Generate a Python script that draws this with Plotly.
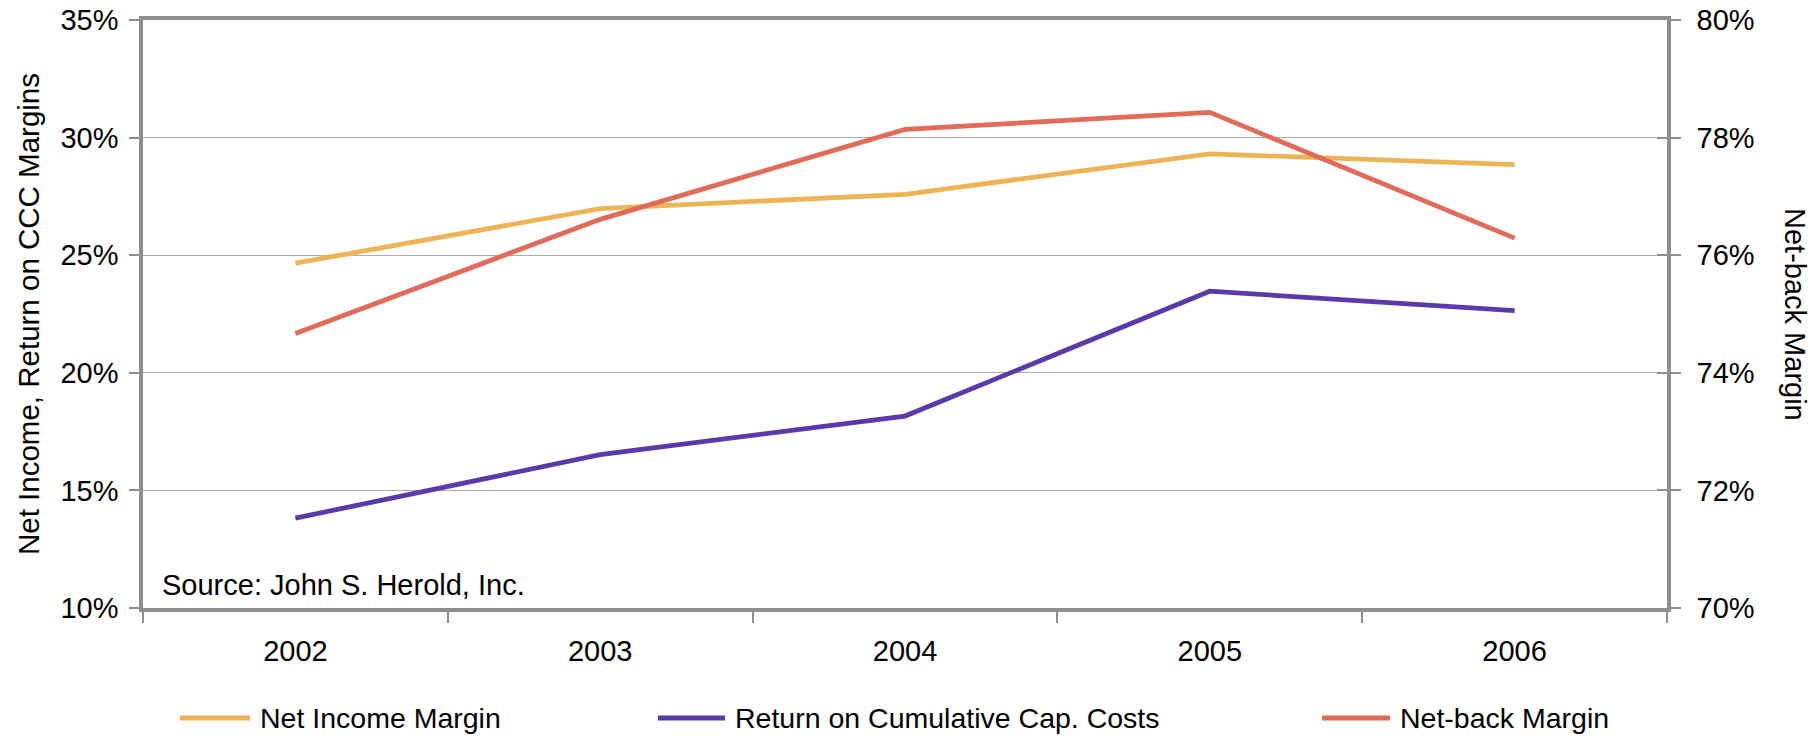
import plotly.graph_objects as go

# Yearly margins (percent)
years = ["2002", "2003", "2004", "2005", "2006"]
net_income_margin = [24.66, 26.98, 27.59, 29.31, 28.85]
return_on_ccc = [13.82, 16.52, 18.16, 23.47, 22.64]
netback_margin = [74.67, 76.61, 78.14, 78.43, 76.29]

series_names = ["Net Income Margin", "Return on Cumulative Cap. Costs", "Net-back Margin"]
series_colors = ["#EDB455", "#5A3AAB", "#E16B58"]

left_ticks = [10, 15, 20, 25, 30, 35]
right_ticks = [70, 72, 74, 76, 78, 80]
left_labels = [f"{v}%" for v in left_ticks]
right_labels = [f"{v}%" for v in right_ticks]

FONT = "Liberation Sans, Arial, sans-serif"
AXIS_GRAY = "#8E8E8E"
W, H = 1819, 738
ML, MR, MT, MB = 143, 152, 20, 130
PW, PH = W - ML - MR, H - MT - MB


def px_x(px):
    return (px - ML) / PW


def px_y(py):
    return (H - MB - py) / PH


fig = go.Figure()
fig.add_trace(go.Scatter(x=years, y=net_income_margin, mode="lines",
                         line=dict(color=series_colors[0], width=4.8),
                         name=series_names[0], yaxis="y"))
fig.add_trace(go.Scatter(x=years, y=return_on_ccc, mode="lines",
                         line=dict(color=series_colors[1], width=4.8),
                         name=series_names[1], yaxis="y"))
fig.add_trace(go.Scatter(x=years, y=netback_margin, mode="lines",
                         line=dict(color=series_colors[2], width=4.8),
                         name=series_names[2], yaxis="y2"))

tickfont = dict(family=FONT, size=29, color="#000000")

fig.update_layout(
    width=W, height=H,
    margin=dict(l=ML, r=MR, t=MT, b=MB, autoexpand=False),
    paper_bgcolor="white", plot_bgcolor="white",
    showlegend=False,
    font=dict(family=FONT, size=29, color="#000000"),
    xaxis=dict(
        type="category", range=[-0.5, 4.5],
        showgrid=False, zeroline=False,
        showline=True, linecolor=AXIS_GRAY, linewidth=3.5, mirror=True,
        ticks="outside", tickson="boundaries", ticklen=11, tickwidth=2,
        tickcolor=AXIS_GRAY, tickfont=tickfont, ticklabelstandoff=14,
    ),
    yaxis=dict(
        range=[10, 35], tickmode="array", tickvals=left_ticks, ticktext=left_labels,
        showgrid=True, gridcolor="#ADADAD", gridwidth=1.2, zeroline=False,
        showline=True, linecolor=AXIS_GRAY, linewidth=3.5,
        ticks="outside", ticklen=10, tickwidth=2, tickcolor=AXIS_GRAY,
        tickfont=tickfont, ticklabelstandoff=5,
    ),
    yaxis2=dict(
        range=[70, 80], tickmode="array", tickvals=right_ticks, ticktext=right_labels,
        overlaying="y", side="right", anchor="x",
        showgrid=False, zeroline=False,
        showline=True, linecolor=AXIS_GRAY, linewidth=3.5,
        ticks="outside", ticklen=10, tickwidth=2, tickcolor=AXIS_GRAY,
        tickfont=tickfont, ticklabelstandoff=10,
    ),
    # inner half of the crossing ticks on the right axis
    yaxis3=dict(
        range=[70, 80], tickmode="array", tickvals=right_ticks,
        overlaying="y", side="right", anchor="x",
        showgrid=False, zeroline=False, showline=False,
        ticks="inside", ticklen=10, tickwidth=2, tickcolor=AXIS_GRAY,
        showticklabels=False,
    ),
)

annotations = [
    dict(text="Net Income, Return on CCC Margins", textangle=-90,
         x=px_x(28), y=0.5, xref="paper", yref="paper",
         xanchor="center", yanchor="middle", showarrow=False,
         font=dict(family=FONT, size=29.5)),
    dict(text="Net-back Margin", textangle=90,
         x=px_x(1795), y=0.5, xref="paper", yref="paper",
         xanchor="center", yanchor="middle", showarrow=False,
         font=dict(family=FONT, size=29)),
    dict(text="Source: John S. Herold, Inc.",
         x=px_x(160), y=px_y(585), xref="paper", yref="paper",
         xanchor="left", yanchor="middle", showarrow=False,
         font=dict(family=FONT, size=29)),
]

# legend row drawn below the axis
legend_line_px = [(180, 250), (658, 725), (1322, 1390)]
legend_y = px_y(718)
shapes = []
for name, color, (a, b) in zip(series_names, series_colors, legend_line_px):
    shapes.append(dict(type="line", xref="paper", yref="paper",
                       x0=px_x(a), x1=px_x(b), y0=legend_y, y1=legend_y,
                       line=dict(color=color, width=5)))
    annotations.append(dict(text=name, x=px_x(b + 8), y=px_y(718),
                            xref="paper", yref="paper",
                            xanchor="left", yanchor="middle", showarrow=False,
                            font=dict(family=FONT, size=28.5)))

fig.update_layout(annotations=annotations, shapes=shapes)
fig.add_trace(go.Scatter(x=[years[0]], y=[75], yaxis="y3", mode="markers",
                         marker=dict(opacity=0), hoverinfo="skip", showlegend=False))

fig.write_html("out.html")
